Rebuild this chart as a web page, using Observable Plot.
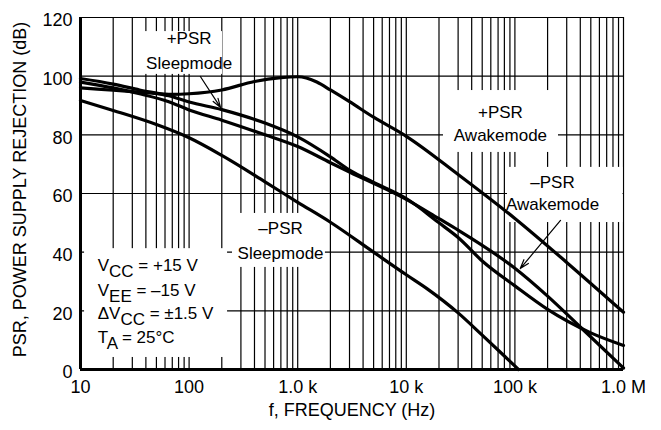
<!DOCTYPE html>
<html><head><meta charset="utf-8">
<script src="https://cdn.jsdelivr.net/npm/d3@7"></script>
<script src="https://cdn.jsdelivr.net/npm/@observablehq/plot@0.6"></script>
<style>body{margin:0;background:#fff} #chart svg{display:block}</style>
</head><body><div id="chart"></div>
<script>
// ---- data ----
const fPlusAwake = [10,20,40,70,100,200,400,700,1000,1200,1500,2000,3000,5000,10000,30000,100000,300000,1000000];
const psrPlusAwake = [96,95.2,94.4,93.8,94,95.3,98.2,99.5,99.8,99.4,98,95.3,91.3,86,79.5,66.5,51.5,36.5,19.5];

const fMinusAwake = [10,20,35,65,100,200,500,1000,2000,3000,10000,20000,30000,100000,200000,400000,1000000];
const psrMinusAwake = [98,96,94,91.3,88.5,85,80,76,70.5,67.3,58,51.4,47.5,34.5,25,14.5,0.5];

const fPlusSleep = [10,20,35,65,100,200,500,1000,2000,3000,5000,10000,20000,30000,50000,100000,200000,500000,1000000];
const psrPlusSleep = [99.2,97.3,95.3,93.3,91.2,88.6,84,79.3,72.5,68,63.8,58.3,50,45,37,28.5,20.5,12.5,8.2];

const fMinusSleep = [10,20,50,100,200,500,1000,2000,5000,10000,15600,30000,50000,80000,108000];
const psrMinusSleep = [91.7,88.3,83.5,79,73,64,57,50.2,40,32.3,27.5,19.3,11.7,4.6,0];

const seriesNames = ["+PSR Awakemode","–PSR Awakemode","+PSR Sleepmode","–PSR Sleepmode"];

const xTicks = [10,100,1000,10000,100000,1000000];
const xTickLabels = ["10","100","1.0 k","10 k","100 k","1.0 M"];
const yTicks = [0,20,40,60,80,100,120];

const xTitle = "f, FREQUENCY (Hz)";
const yTitle = "PSR, POWER SUPPLY REJECTION (dB)";

const labelTexts = ["+PSR","Sleepmode","+PSR","Awakemode","–PSR","Awakemode","–PSR","Sleepmode"];
const labelF =     [100,100,73600,73600,222000,222000,695,695];
const labelDb =    [112.8,104.3,87.6,79.8,63.7,56.3,48.1,39.5];

const condParts = [["V","CC"," = +15 V"],["V","EE"," = –15 V"],["ΔV","CC"," = ±1.5 V"],["T","A"," = 25°C"]];
const condF = 14.4;
const condDb = [35.5,26.9,19.1,10.9];

// white boxes behind labels (f1,f2,db1,db2)
const boxF1 = [33.5,22000,85500,10.9,251];
const boxF2 = [203,252000,990000,226,1800];
const boxDb1 = [100.6,74,50.1,4.1,34.8];
const boxDb2 = [115.2,95.1,68.9,41.2,53.2];

// arrows (from -> to)
const arrF1 = [127,263000];
const arrDb1 = [99.9,50.8];
const arrF2 = [195,112000];
const arrDb2 = [89.3,34.4];

// ---- build tables ----
const curves = [[fPlusAwake,psrPlusAwake],[fMinusAwake,psrMinusAwake],[fPlusSleep,psrPlusSleep],[fMinusSleep,psrMinusSleep]];
const rows = curves.flatMap(([fs,vs],k)=>fs.map((f,i)=>({series:seriesNames[k], f, v:vs[i]})));
const gridFreqs = [];
for (const dec of [10,100,1000,10000,100000]) for (let k=1;k<=9;k++) if (!(dec===10&&k===1)) gridFreqs.push(dec*k);
gridFreqs.push(1000000);
const gridDb = yTicks.filter(d=>d>0);
const labels = labelTexts.map((t,i)=>({t, f:labelF[i], v:labelDb[i]}));
const boxes = boxF1.map((f,i)=>({f1:f, f2:boxF2[i], v1:boxDb1[i], v2:boxDb2[i]}));
const arrows = arrF1.map((f,i)=>({f1:f, v1:arrDb1[i], f2:arrF2[i], v2:arrDb2[i]}));
const conds = condParts.map((p,i)=>({t:p.join(""), f:condF, v:condDb[i]}));

const FONT = "'Liberation Sans', Arial, Helvetica, sans-serif";

const chart = Plot.plot({
  width: 661, height: 430,
  marginLeft: 80, marginRight: 38, marginTop: 17, marginBottom: 61,
  style: {fontFamily: FONT, fontSize: "18px", color: "black", background: "white"},
  x: {type: "log", domain: [10, 1000000]},
  y: {domain: [0, 120]},
  marks: [
    Plot.ruleX(gridFreqs, {stroke: "black", strokeWidth: 1.2}),
    Plot.ruleY(gridDb, {stroke: "black", strokeWidth: 1.2}),
    Plot.rect(boxes, {x1: "f1", x2: "f2", y1: "v1", y2: "v2", fill: "white"}),
    Plot.line(rows, {x: "f", y: "v", z: "series", stroke: "black", strokeWidth: 3.2, curve: "monotone-x"}),
    Plot.ruleX([10], {stroke: "black", strokeWidth: 3}),
    Plot.ruleY([0], {stroke: "black", strokeWidth: 3}),
    Plot.axisX({ticks: xTicks, tickFormat: d => xTickLabels[xTicks.indexOf(d)], tickSize: 0, tickPadding: 11, fontSize: 18, label: null}),
    Plot.axisY({ticks: yTicks, tickSize: 0, tickPadding: 8, dy: 3, fontSize: 18, label: null}),
    Plot.text(labels, {x: "f", y: "v", text: "t", fontSize: 17, textAnchor: "middle"}),
    Plot.arrow(arrows, {x1: "f1", y1: "v1", x2: "f2", y2: "v2", stroke: "black", strokeWidth: 1.2, headLength: 12, headAngle: 35}),
    Plot.text(conds, {x: "f", y: "v", text: "t", fontSize: 17, textAnchor: "start"}),
    Plot.text([xTitle], {text: d => d, frameAnchor: "bottom", dy: 46, fontSize: 18, textAnchor: "middle"}),
    Plot.text([yTitle], {text: d => d, frameAnchor: "left", rotate: -90, dx: -60, dy: -4, fontSize: 18, textAnchor: "middle"})
  ]
});

// subscripts for the condition lines
const condMap = new Map(condParts.map(p => [p.join(""), p]));
d3.select(chart).selectAll("text").each(function() {
  const p = condMap.get(this.textContent);
  if (!p) return;
  this.textContent = "";
  const s = d3.select(this);
  s.append("tspan").text(p[0]);
  s.append("tspan").attr("dy", "0.36em").text(p[1]);
  s.append("tspan").attr("dy", "-0.36em").text(p[2]);
});

document.getElementById("chart").appendChild(chart);
</script></body></html>
